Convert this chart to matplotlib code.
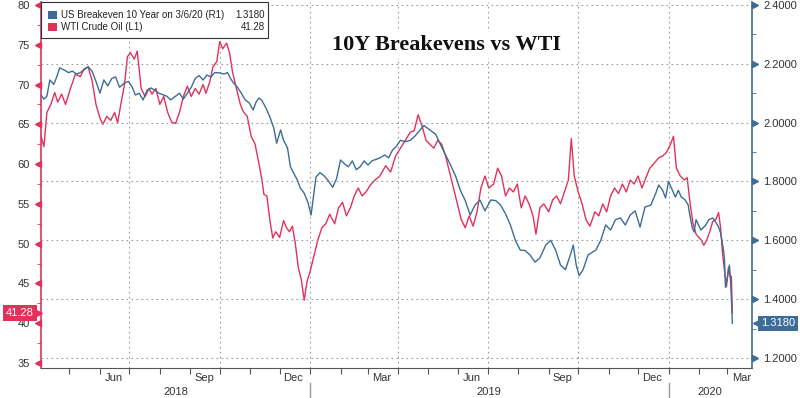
import numpy as np
import pandas as pd
import matplotlib
matplotlib.use('Agg')
import matplotlib.pyplot as plt
import matplotlib.dates as mdates
from matplotlib.ticker import MultipleLocator
from matplotlib.patches import Rectangle

plt.rcParams['font.family'] = ['Liberation Sans', 'DejaVu Sans']

# WTI crude oil (left axis)
wti_dates = ['2018-04-02', '2018-04-05', '2018-04-08', '2018-04-12', '2018-04-16', '2018-04-19',
             '2018-04-23', '2018-04-27', '2018-05-02', '2018-05-07', '2018-05-12', '2018-05-16',
             '2018-05-20', '2018-05-24', '2018-05-28', '2018-06-01', '2018-06-04', '2018-06-08',
             '2018-06-12', '2018-06-16', '2018-06-19', '2018-06-23', '2018-06-26', '2018-06-29',
             '2018-07-02', '2018-07-06', '2018-07-09', '2018-07-13', '2018-07-17', '2018-07-21',
             '2018-07-24', '2018-07-28', '2018-08-01', '2018-08-05', '2018-08-09', '2018-08-13',
             '2018-08-17', '2018-08-21', '2018-08-25', '2018-08-29', '2018-09-02', '2018-09-06',
             '2018-09-10', '2018-09-14', '2018-09-17', '2018-09-21', '2018-09-24', '2018-09-28',
             '2018-10-01', '2018-10-04', '2018-10-08', '2018-10-11', '2018-10-14', '2018-10-18',
             '2018-10-22', '2018-10-25', '2018-10-29', '2018-11-02', '2018-11-06', '2018-11-10',
             '2018-11-13', '2018-11-15', '2018-11-18', '2018-11-21', '2018-11-24', '2018-11-27',
             '2018-12-01', '2018-12-05', '2018-12-08', '2018-12-11', '2018-12-14', '2018-12-17',
             '2018-12-20', '2018-12-23', '2018-12-26', '2018-12-29', '2019-01-01', '2019-01-05',
             '2019-01-09', '2019-01-13', '2019-01-17', '2019-01-21', '2019-01-26', '2019-01-30',
             '2019-02-03', '2019-02-07', '2019-02-11', '2019-02-15', '2019-02-19', '2019-02-23',
             '2019-02-27', '2019-03-03', '2019-03-08', '2019-03-13', '2019-03-19', '2019-03-24',
             '2019-03-29', '2019-04-03', '2019-04-08', '2019-04-13', '2019-04-17', '2019-04-21',
             '2019-04-25', '2019-04-29', '2019-05-03', '2019-05-07', '2019-05-11', '2019-05-15',
             '2019-05-19', '2019-05-23', '2019-05-27', '2019-05-31', '2019-06-04', '2019-06-08',
             '2019-06-12', '2019-06-16', '2019-06-20', '2019-06-24', '2019-06-28', '2019-07-02',
             '2019-07-07', '2019-07-11', '2019-07-15', '2019-07-19', '2019-07-23', '2019-07-27',
             '2019-07-31', '2019-08-04', '2019-08-08', '2019-08-12', '2019-08-16', '2019-08-19',
             '2019-08-23', '2019-08-27', '2019-09-01', '2019-09-05', '2019-09-09', '2019-09-13',
             '2019-09-17', '2019-09-21', '2019-09-24', '2019-09-27', '2019-10-01', '2019-10-05',
             '2019-10-09', '2019-10-13', '2019-10-18', '2019-10-22', '2019-10-26', '2019-10-30',
             '2019-11-03', '2019-11-07', '2019-11-11', '2019-11-15', '2019-11-19', '2019-11-23',
             '2019-11-27', '2019-12-01', '2019-12-05', '2019-12-09', '2019-12-13', '2019-12-18',
             '2019-12-22', '2019-12-26', '2019-12-30', '2020-01-03', '2020-01-06', '2020-01-09',
             '2020-01-13', '2020-01-17', '2020-01-20', '2020-01-23', '2020-01-26', '2020-01-29',
             '2020-02-03', '2020-02-06', '2020-02-09', '2020-02-12', '2020-02-15', '2020-02-18',
             '2020-02-21', '2020-02-23', '2020-02-25', '2020-02-27', '2020-02-29', '2020-03-02',
             '2020-03-03', '2020-03-04', '2020-03-05', '2020-03-06']
wti_vals = [63.5, 62.2, 66.5, 67.5, 69.0, 67.8,
            68.8, 67.5, 69.5, 71.3, 71.0, 72.0,
            72.2, 70.5, 67.5, 65.8, 65.0, 66.0,
            65.5, 66.5, 65.2, 68.0, 70.0, 73.5,
            74.0, 73.2, 74.2, 69.5, 68.5, 69.5,
            68.8, 69.5, 67.5, 68.5, 66.5, 65.3,
            65.1, 66.5, 68.5, 69.8, 68.5, 69.5,
            68.8, 70.0, 68.9, 70.4, 72.2, 72.9,
            75.4, 74.5, 75.2, 74.0, 71.6, 69.5,
            67.5, 66.6, 66.0, 63.5, 62.5, 60.0,
            58.0, 56.2, 56.0, 53.0, 50.7, 51.5,
            50.8, 52.9, 52.0, 51.5, 52.2, 50.0,
            47.0, 45.5, 42.9, 45.3, 46.5, 48.5,
            50.5, 52.0, 52.5, 53.7, 52.5, 54.5,
            55.2, 53.5, 54.5, 56.0, 57.0, 56.0,
            56.5, 57.3, 58.0, 58.5, 59.8, 59.0,
            61.0, 62.0, 63.0, 64.0, 64.2, 66.2,
            64.8, 63.0, 62.5, 62.0, 63.0, 62.5,
            61.0, 59.0, 57.0, 55.0, 53.0, 52.0,
            53.5, 52.2, 54.0, 57.0, 58.5, 57.0,
            57.5, 59.5, 58.5, 56.0, 57.0, 56.5,
            57.5, 54.5, 56.0, 55.0, 53.5, 51.2,
            54.5, 55.0, 54.0, 55.5, 56.0, 55.0,
            56.5, 58.0, 63.2, 58.5, 56.5, 55.0,
            53.0, 52.2, 54.0, 53.5, 55.0, 54.0,
            56.0, 57.0, 56.3, 57.5, 56.5, 58.0,
            57.5, 58.5, 57.0, 58.3, 59.5, 60.2,
            60.8, 61.0, 61.5, 62.5, 63.5, 59.5,
            58.5, 58.0, 58.3, 55.0, 52.5, 51.2,
            50.5, 49.8, 50.5, 51.5, 52.8, 53.0,
            53.9, 52.0, 48.8, 46.6, 44.6, 47.0,
            46.5, 45.8, 45.9, 41.28]

# US 10Y breakeven (right axis)
be_dates = ['2018-04-02', '2018-04-05', '2018-04-08', '2018-04-11', '2018-04-15', '2018-04-18',
            '2018-04-21', '2018-04-25', '2018-04-30', '2018-05-04', '2018-05-08', '2018-05-12',
            '2018-05-16', '2018-05-20', '2018-05-24', '2018-05-28', '2018-06-01', '2018-06-05',
            '2018-06-09', '2018-06-13', '2018-06-17', '2018-06-21', '2018-06-26', '2018-06-30',
            '2018-07-04', '2018-07-07', '2018-07-11', '2018-07-15', '2018-07-19', '2018-07-23',
            '2018-07-27', '2018-07-31', '2018-08-04', '2018-08-08', '2018-08-12', '2018-08-17',
            '2018-08-21', '2018-08-25', '2018-08-29', '2018-09-02', '2018-09-06', '2018-09-10',
            '2018-09-14', '2018-09-18', '2018-09-22', '2018-09-26', '2018-10-01', '2018-10-05',
            '2018-10-09', '2018-10-12', '2018-10-15', '2018-10-19', '2018-10-23', '2018-10-27',
            '2018-10-31', '2018-11-04', '2018-11-07', '2018-11-10', '2018-11-13', '2018-11-17',
            '2018-11-21', '2018-11-25', '2018-11-28', '2018-12-02', '2018-12-05', '2018-12-09',
            '2018-12-12', '2018-12-15', '2018-12-19', '2018-12-22', '2018-12-26', '2018-12-30',
            '2019-01-02', '2019-01-04', '2019-01-07', '2019-01-11', '2019-01-15', '2019-01-19',
            '2019-01-24', '2019-01-28', '2019-02-01', '2019-02-05', '2019-02-09', '2019-02-13',
            '2019-02-17', '2019-02-21', '2019-02-25', '2019-03-01', '2019-03-05', '2019-03-09',
            '2019-03-13', '2019-03-18', '2019-03-22', '2019-03-26', '2019-03-30', '2019-04-03',
            '2019-04-08', '2019-04-13', '2019-04-18', '2019-04-23', '2019-04-27', '2019-05-01',
            '2019-05-05', '2019-05-09', '2019-05-14', '2019-05-19', '2019-05-24', '2019-05-29',
            '2019-06-03', '2019-06-08', '2019-06-13', '2019-06-18', '2019-06-23', '2019-06-28',
            '2019-07-04', '2019-07-09', '2019-07-14', '2019-07-19', '2019-07-24', '2019-07-29',
            '2019-08-03', '2019-08-08', '2019-08-13', '2019-08-18', '2019-08-23', '2019-08-29',
            '2019-09-03', '2019-09-08', '2019-09-13', '2019-09-18', '2019-09-23', '2019-09-26',
            '2019-09-29', '2019-10-02', '2019-10-06', '2019-10-11', '2019-10-19', '2019-10-24',
            '2019-10-29', '2019-11-03', '2019-11-08', '2019-11-13', '2019-11-18', '2019-11-23',
            '2019-11-28', '2019-12-03', '2019-12-08', '2019-12-14', '2019-12-19', '2019-12-22',
            '2019-12-26', '2019-12-29', '2020-01-01', '2020-01-05', '2020-01-08', '2020-01-11',
            '2020-01-14', '2020-01-18', '2020-01-21', '2020-01-23', '2020-01-25', '2020-01-27',
            '2020-01-29', '2020-02-03', '2020-02-08', '2020-02-11', '2020-02-15', '2020-02-18',
            '2020-02-21', '2020-02-23', '2020-02-26', '2020-02-27', '2020-02-28', '2020-03-01',
            '2020-03-03', '2020-03-04', '2020-03-05', '2020-03-06']
be_vals = [2.094, 2.080, 2.090, 2.145, 2.130, 2.155,
           2.186, 2.180, 2.170, 2.175, 2.165, 2.170,
           2.180, 2.190, 2.175, 2.140, 2.100, 2.145,
           2.125, 2.150, 2.155, 2.120, 2.135, 2.140,
           2.120, 2.094, 2.100, 2.077, 2.110, 2.118,
           2.110, 2.100, 2.095, 2.090, 2.077, 2.090,
           2.100, 2.080, 2.100, 2.120, 2.150, 2.160,
           2.145, 2.162, 2.155, 2.170, 2.169, 2.165,
           2.170, 2.150, 2.135, 2.120, 2.100, 2.077,
           2.067, 2.043, 2.070, 2.084, 2.075, 2.050,
           2.020, 1.982, 1.930, 1.975, 1.940, 1.914,
           1.850, 1.830, 1.805, 1.778, 1.760, 1.727,
           1.686, 1.737, 1.815, 1.830, 1.820, 1.805,
           1.780, 1.810, 1.873, 1.860, 1.850, 1.870,
           1.840, 1.850, 1.870, 1.856, 1.870, 1.875,
           1.880, 1.890, 1.880, 1.907, 1.920, 1.940,
           1.935, 1.940, 1.955, 1.975, 1.990, 1.980,
           1.970, 1.960, 1.924, 1.890, 1.856, 1.820,
           1.770, 1.735, 1.686, 1.720, 1.737, 1.700,
           1.737, 1.735, 1.720, 1.690, 1.652, 1.600,
           1.567, 1.565, 1.550, 1.526, 1.540, 1.584,
           1.600, 1.567, 1.516, 1.500, 1.550, 1.584,
           1.516, 1.480, 1.500, 1.550, 1.567, 1.600,
           1.652, 1.635, 1.670, 1.676, 1.652, 1.686,
           1.700, 1.645, 1.713, 1.720, 1.760, 1.788,
           1.770, 1.744, 1.800, 1.770, 1.747, 1.770,
           1.747, 1.737, 1.720, 1.680, 1.645, 1.628,
           1.670, 1.635, 1.652, 1.670, 1.676, 1.662,
           1.645, 1.625, 1.567, 1.533, 1.440, 1.475,
           1.516, 1.470, 1.400, 1.318]

left_ticks = [35, 40, 45, 50, 55, 60, 65, 70, 75, 80]
right_ticks = [1.2, 1.4, 1.6, 1.8, 2.0, 2.2, 2.4]
month_labels = ['Jun', 'Sep', 'Dec', 'Mar', 'Jun', 'Sep', 'Dec', 'Mar']
month_label_dates = ['2018-06-15', '2018-09-15', '2018-12-15', '2019-03-15',
                     '2019-06-15', '2019-09-15', '2019-12-15', '2020-03-15']
years = ['2018', '2019', '2020']

RED = '#e2315a'
BLUE = '#3d6c97'
GRID = '#9a9a9a'

x0 = pd.Timestamp('2018-04-02')
x1 = pd.Timestamp('2020-03-26')

fig = plt.figure(figsize=(8, 3.98), dpi=100)
ax = fig.add_axes([41/800, 30/398, 711/800, 366/398])
ax2 = ax.twinx()

ax.plot(pd.to_datetime(wti_dates), wti_vals, color=RED, lw=1.0)
ax2.plot(pd.to_datetime(be_dates), be_vals, color=BLUE, lw=1.0)

ax.set_xlim(x0, x1)
ax.set_ylim(34.375, 80.375)
ax2.set_ylim(1.166, 2.41)

# spines
for s in ['top', 'right']:
    ax.spines[s].set_visible(False)
for s in ['top', 'left', 'bottom']:
    ax2.spines[s].set_visible(False)
ax.spines['left'].set_color(RED)
ax.spines['left'].set_linewidth(1.2)
ax.spines['bottom'].set_color('#555555')
ax2.spines['right'].set_color(BLUE)
ax2.spines['right'].set_linewidth(1.2)

# y axes
ax.set_yticks(left_ticks)
ax.yaxis.set_minor_locator(MultipleLocator(2.5))
ax.tick_params(axis='y', which='major', length=0, pad=8, labelsize=8, labelcolor='#333333')
ax.tick_params(axis='y', which='minor', length=3, color=RED)
ax.plot([-3/711]*len(left_ticks), left_ticks, ls='none', marker='<', ms=4.5, color=RED,
        transform=ax.get_yaxis_transform(), clip_on=False)

ax2.set_yticks(right_ticks)
ax2.set_yticklabels(['%.4f' % v for v in right_ticks])
ax2.yaxis.set_minor_locator(MultipleLocator(0.1))
ax2.tick_params(axis='y', which='major', length=0, pad=8, labelsize=8, labelcolor='#333333')
ax2.tick_params(axis='y', which='minor', length=3, color=BLUE)
ax2.plot([1 + 3/711]*len(right_ticks), right_ticks, ls='none', marker='>', ms=4.5, color=BLUE,
         transform=ax2.get_yaxis_transform(), clip_on=False)
ax2.yaxis.grid(True, color=GRID, ls=(0, (1.5, 3)), lw=0.8)

# x axis
ax.xaxis.set_major_locator(mdates.MonthLocator())
ax.xaxis.set_major_formatter(plt.NullFormatter())
ax.tick_params(axis='x', length=4, color='#555555')
for d in pd.date_range('2018-07-01', '2020-01-01', freq='QS'):
    ax.axvline(d, color=GRID, ls=(0, (1.5, 3)), lw=0.8, zorder=0)

for lab, d in zip(month_labels, month_label_dates):
    ax.annotate(lab, xy=(pd.Timestamp(d), 0), xycoords=('data', 'axes fraction'),
                xytext=(0, -10), textcoords='offset pixels', ha='center', va='center',
                fontsize=8, color='#333333', annotation_clip=False)

bounds = [x0, pd.Timestamp('2019-01-01'), pd.Timestamp('2020-01-01'), x1]
for i, y in enumerate(years):
    mid = bounds[i] + (bounds[i + 1] - bounds[i]) / 2
    ax.annotate(y, xy=(mid, 0), xycoords=('data', 'axes fraction'),
                xytext=(0, -24), textcoords='offset pixels', ha='center', va='center',
                fontsize=8, color='#333333', annotation_clip=False)
for b in bounds[1:3]:
    ax.plot([b, b], [-15/366, -29/366], color='#999999', lw=1,
            transform=ax.get_xaxis_transform(), clip_on=False)

# last value tags
ax.text(-7/711, wti_vals[-1], '%.2f' % wti_vals[-1], transform=ax.get_yaxis_transform(),
        ha='right', va='center', color='white', fontsize=8,
        bbox=dict(boxstyle='square,pad=0.25', fc=RED, ec='none'))
ax.plot([-4/711], [wti_vals[-1]], marker='>', ms=7, color=RED, ls='none',
        transform=ax.get_yaxis_transform(), clip_on=False)
ax2.text(1 + 9/711, be_vals[-1], '%.4f' % be_vals[-1], transform=ax2.get_yaxis_transform(),
         ha='left', va='center', color='white', fontsize=8,
         bbox=dict(boxstyle='square,pad=0.25', fc=BLUE, ec='none'))
ax2.plot([1 + 6/711], [be_vals[-1]], marker='<', ms=7, color=BLUE, ls='none',
         transform=ax2.get_yaxis_transform(), clip_on=False)

# legend box
fig.add_artist(Rectangle((41/800, 1 - 38/398), 227/800, 36/398, transform=fig.transFigure,
                         fc='white', ec='#333333', lw=0.8))
fig.add_artist(Rectangle((48/800, 1 - 19/398), 9/800, 8/398, transform=fig.transFigure,
                         fc=BLUE, ec='none'))
fig.add_artist(Rectangle((48/800, 1 - 31/398), 9/800, 8/398, transform=fig.transFigure,
                         fc=RED, ec='none'))
fig.text(61/800, 1 - 15/398, 'US Breakeven 10 Year on 3/6/20 (R1)', va='center', fontsize=7, color='#222222')
fig.text(61/800, 1 - 27/398, 'WTI Crude Oil (L1)', va='center', fontsize=7, color='#222222')
fig.text(265/800, 1 - 15/398, '%.4f' % be_vals[-1], va='center', ha='right', fontsize=7, color='#222222')
fig.text(265/800, 1 - 27/398, '%.2f' % wti_vals[-1], va='center', ha='right', fontsize=7, color='#222222')

fig.text(447/800, 1 - 45/398, '10Y Breakevens vs WTI', ha='center', va='center',
         fontsize=16, fontweight='bold', family='Liberation Serif', color='#111111',
         bbox=dict(boxstyle='square,pad=0.15', fc='white', ec='none'))

fig.savefig('out.png', dpi=100)
